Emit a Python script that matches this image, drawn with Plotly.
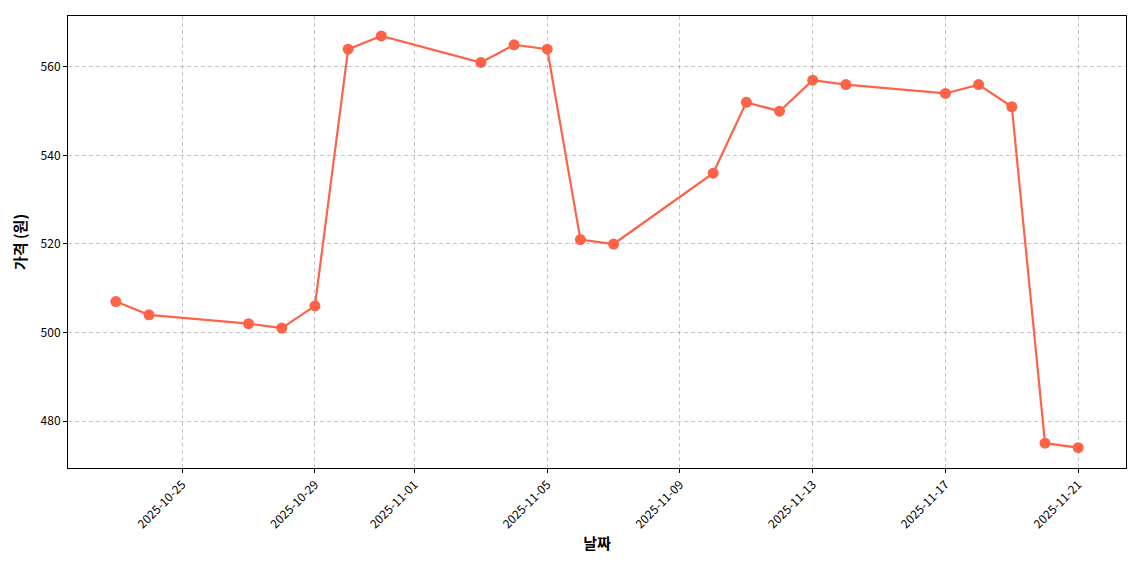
import plotly.graph_objects as go
import pandas as pd

dates = ["2025-10-23","2025-10-24","2025-10-27","2025-10-28","2025-10-29","2025-10-30","2025-10-31",
         "2025-11-03","2025-11-04","2025-11-05","2025-11-06","2025-11-07","2025-11-10","2025-11-11",
         "2025-11-12","2025-11-13","2025-11-14","2025-11-17","2025-11-18","2025-11-19","2025-11-20","2025-11-21"]
prices = [507,504,502,501,506,564,567,561,565,564,521,520,536,552,550,557,556,554,556,551,475,474]
tick_dates = ["2025-10-25","2025-10-29","2025-11-01","2025-11-05","2025-11-09","2025-11-13","2025-11-17","2025-11-21"]

font = "Noto Sans CJK KR"
fig = go.Figure(go.Scatter(x=dates, y=prices, mode="lines+markers",
    line=dict(color="#FF6347", width=2.2), marker=dict(color="#FF6347", size=11)))
ax = dict(showline=True, linecolor="black", linewidth=1, mirror=True, ticks="outside",
          ticklen=4, tickcolor="black", gridcolor="rgba(0,0,0,0.22)", griddash="4px,3px",
          zeroline=False, tickfont=dict(size=12, color="black"))
fig.update_xaxes(**ax, type="date", tickvals=tick_dates, ticktext=tick_dates, tickangle=-45,
                 range=["2025-10-21 13:25", "2025-11-22 10:35"],
                 title=dict(text="<b>날짜</b>", font=dict(size=15, color="black"), standoff=8))
fig.update_yaxes(**ax, range=[469.4, 571.5], tickvals=[480,500,520,540,560],
                 title=dict(text="<b>가격 (원)</b>", font=dict(size=15, color="black"), standoff=10))
fig.update_layout(width=1140, height=570, margin=dict(l=60, r=22, t=8, b=110),
                  plot_bgcolor="white", paper_bgcolor="white", font=dict(family=font),
                  showlegend=False)
fig.write_html("out.html")
